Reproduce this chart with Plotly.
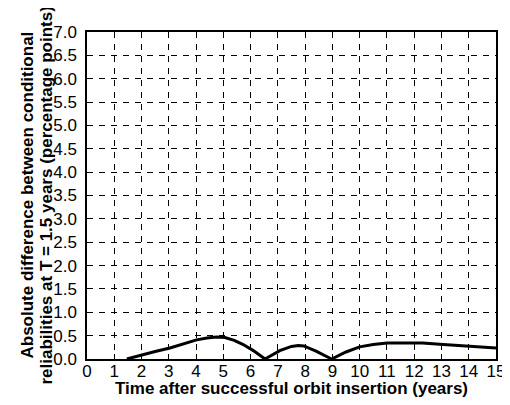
import plotly.graph_objects as go

time_years = [1.46, 2.0, 2.5, 3.04, 3.5, 4.02, 4.4, 4.75, 5.06, 5.4, 5.73, 6.1, 6.53,
              7.07, 7.5, 7.75, 7.95, 8.4, 8.97, 9.5, 10.0, 10.5, 11.0, 12.3, 13.07, 14.17, 15.0]
abs_diff = [0.0, 0.09, 0.16, 0.235, 0.32, 0.41, 0.45, 0.47, 0.46, 0.40, 0.31, 0.18, 0.0,
            0.18, 0.27, 0.29, 0.28, 0.17, 0.0, 0.15, 0.26, 0.31, 0.34, 0.34, 0.31, 0.27, 0.235]

x_ticks = list(range(0, 16))
y_ticks = [i * 0.5 for i in range(15)]
y_tick_labels = [f"{v:.1f}" for v in y_ticks]

x_title = "Time after successful orbit insertion (years)"
y_title_lines = ["Absolute difference between conditional",
                 "reliabilities at T = 1.5 years (percentage points)"]

fig = go.Figure()
fig.add_trace(go.Scatter(x=time_years, y=abs_diff, mode="lines",
                         line=dict(color="black", width=3), showlegend=False))

font_family = "Liberation Sans, Arial, sans-serif"
# the page body adds an 8px offset; size the figure so the plot lands where the reference has it
fig.update_layout(
    width=502, height=397,
    margin=dict(l=79, r=14, t=24, b=46),
    paper_bgcolor="white", plot_bgcolor="white",
    font=dict(family=font_family, color="black", size=17),
)
common = dict(
    showgrid=True, gridcolor="black", gridwidth=1, griddash="6px,6px",
    showline=True, linecolor="black", linewidth=1.5, mirror=True,
    ticks="inside", ticklen=5, tickcolor="black", zeroline=False,
    tickfont=dict(size=17), automargin=False,
)
fig.update_xaxes(range=[0, 15], tickvals=x_ticks, ticktext=[str(v) for v in x_ticks],
                 ticklabelstandoff=-4, **common)
fig.update_yaxes(range=[0, 7], tickvals=y_ticks, ticktext=y_tick_labels,
                 ticklabelstandoff=5, **common)

# axis titles
fig.add_annotation(text=f"<b>{x_title}</b>", xref="paper", yref="paper",
                   x=0.5, y=0, yshift=-29, xanchor="center", yanchor="middle",
                   showarrow=False, font=dict(size=17))
fig.add_annotation(text=f"<b>{y_title_lines[0]}</b>", xref="paper", yref="paper",
                   x=0, xshift=-60, y=0.5, textangle=-90, xanchor="center", yanchor="middle",
                   showarrow=False, font=dict(size=17))
fig.add_annotation(text=f"<b>{y_title_lines[1]}</b>", xref="paper", yref="paper",
                   x=0, xshift=-41, y=0.5, textangle=-90, xanchor="center", yanchor="middle",
                   showarrow=False, font=dict(size=17))
fig.write_html("out.html")
